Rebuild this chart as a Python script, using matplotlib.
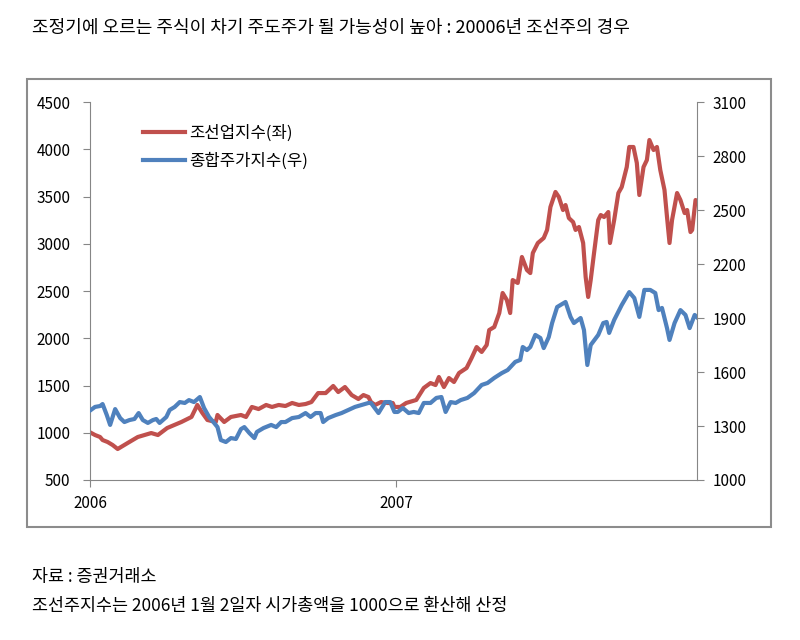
import pandas as pd
import matplotlib.pyplot as plt
from matplotlib.patches import Rectangle

plt.rcParams['font.family'] = ['Noto Sans CJK KR', 'DejaVu Sans']

# 조선업지수 (left axis)
ship_dates = [
    '2006-01-02', '2006-01-07', '2006-01-13', '2006-01-16', '2006-01-22', '2006-01-28', '2006-02-03',
    '2006-02-15', '2006-02-27', '2006-03-15', '2006-03-23', '2006-04-03', '2006-04-20', '2006-05-02',
    '2006-05-09', '2006-05-15', '2006-05-21', '2006-05-31', '2006-06-02', '2006-06-10', '2006-06-18',
    '2006-06-30', '2006-07-06', '2006-07-13', '2006-07-21', '2006-07-30', '2006-08-06', '2006-08-14',
    '2006-08-22', '2006-08-30', '2006-09-07', '2006-09-15', '2006-09-22', '2006-09-30', '2006-10-09',
    '2006-10-18', '2006-10-24', '2006-11-01', '2006-11-09', '2006-11-17', '2006-11-23', '2006-11-29',
    '2006-12-02', '2006-12-07', '2006-12-14', '2006-12-22', '2006-12-28', '2006-12-30', '2007-01-06',
    '2007-01-13', '2007-01-25', '2007-02-03', '2007-02-11', '2007-02-17', '2007-02-21', '2007-02-27',
    '2007-03-05', '2007-03-11', '2007-03-17', '2007-03-26', '2007-04-01', '2007-04-07', '2007-04-13',
    '2007-04-19', '2007-04-22', '2007-04-28', '2007-05-04', '2007-05-08', '2007-05-13', '2007-05-17',
    '2007-05-20', '2007-05-26', '2007-05-31', '2007-06-06', '2007-06-10', '2007-06-13', '2007-06-19',
    '2007-06-26', '2007-06-30', '2007-07-04', '2007-07-10', '2007-07-14', '2007-07-19', '2007-07-22',
    '2007-07-26', '2007-07-31', '2007-08-03', '2007-08-07', '2007-08-12', '2007-08-15', '2007-08-18',
    '2007-08-21', '2007-08-25', '2007-08-30', '2007-09-02', '2007-09-06', '2007-09-11', '2007-09-13',
    '2007-09-18', '2007-09-23', '2007-09-27', '2007-10-03', '2007-10-06', '2007-10-11', '2007-10-15',
    '2007-10-18', '2007-10-23', '2007-10-27', '2007-10-30', '2007-11-04', '2007-11-08', '2007-11-12',
    '2007-11-17', '2007-11-20', '2007-11-23', '2007-11-26', '2007-12-02', '2007-12-06', '2007-12-11',
    '2007-12-14', '2007-12-18', '2007-12-20', '2007-12-24', '2007-12-28',
]
ship_index = [
    1000, 976, 955, 923, 902, 870, 828,
    892, 955, 997, 976, 1050, 1114, 1167,
    1294, 1209, 1135, 1114, 1188, 1114, 1167,
    1188, 1167, 1273, 1251, 1294, 1273, 1294,
    1283, 1315, 1294, 1304, 1325, 1420, 1420,
    1495, 1431, 1484, 1399, 1357, 1399, 1378,
    1325, 1294, 1325, 1315, 1315, 1273, 1273,
    1315, 1347, 1474, 1526, 1505, 1590, 1484,
    1579, 1537, 1632, 1685, 1791, 1907, 1855,
    1929, 2087, 2119, 2267, 2479, 2405, 2267,
    2616, 2585, 2860, 2722, 2690, 2902, 3008,
    3061, 3146, 3389, 3548, 3495, 3357, 3410,
    3272, 3230, 3146, 3177, 3008, 2648, 2437,
    2616, 2902, 3251, 3304, 3283, 3336, 3008,
    3251, 3537, 3600, 3812, 4024, 4024, 3855,
    3516, 3812, 3886, 4098, 3992, 4024, 3780,
    3569, 3283, 3008, 3251, 3537, 3463, 3325,
    3357, 3124, 3146, 3463, 3442,
]

# 종합주가지수 (right axis)
kospi_dates = [
    '2006-01-02', '2006-01-07', '2006-01-13', '2006-01-16', '2006-01-21', '2006-01-25', '2006-01-31',
    '2006-02-06', '2006-02-11', '2006-02-17', '2006-02-23', '2006-02-28', '2006-03-05', '2006-03-11',
    '2006-03-17', '2006-03-21', '2006-03-25', '2006-04-02', '2006-04-06', '2006-04-12', '2006-04-18',
    '2006-04-24', '2006-04-29', '2006-05-05', '2006-05-12', '2006-05-17', '2006-05-23', '2006-05-29',
    '2006-06-02', '2006-06-06', '2006-06-12', '2006-06-18', '2006-06-24', '2006-06-30', '2006-07-04',
    '2006-07-10', '2006-07-16', '2006-07-19', '2006-07-27', '2006-08-05', '2006-08-11', '2006-08-17',
    '2006-08-22', '2006-08-30', '2006-09-07', '2006-09-15', '2006-09-21', '2006-09-27', '2006-10-03',
    '2006-10-06', '2006-10-12', '2006-10-21', '2006-10-28', '2006-11-05', '2006-11-13', '2006-11-21',
    '2006-11-29', '2006-12-02', '2006-12-11', '2006-12-19', '2006-12-25', '2006-12-30', '2007-01-03',
    '2007-01-09', '2007-01-16', '2007-01-22', '2007-01-28', '2007-02-03', '2007-02-11', '2007-02-18',
    '2007-02-24', '2007-03-01', '2007-03-07', '2007-03-13', '2007-03-19', '2007-03-27', '2007-04-04',
    '2007-04-13', '2007-04-20', '2007-04-28', '2007-05-07', '2007-05-14', '2007-05-23', '2007-05-29',
    '2007-06-01', '2007-06-06', '2007-06-10', '2007-06-16', '2007-06-22', '2007-06-26', '2007-07-02',
    '2007-07-06', '2007-07-12', '2007-07-22', '2007-07-28', '2007-08-01', '2007-08-09', '2007-08-13',
    '2007-08-17', '2007-08-21', '2007-08-30', '2007-09-05', '2007-09-09', '2007-09-12', '2007-09-18',
    '2007-09-27', '2007-10-06', '2007-10-12', '2007-10-18', '2007-10-24', '2007-10-31', '2007-11-06',
    '2007-11-10', '2007-11-14', '2007-11-20', '2007-11-23', '2007-11-29', '2007-12-06', '2007-12-12',
    '2007-12-17', '2007-12-23', '2007-12-28',
]
kospi_index = [
    1389, 1406, 1411, 1422, 1361, 1306, 1394,
    1344, 1322, 1333, 1339, 1372, 1333, 1317,
    1333, 1339, 1317, 1350, 1389, 1406, 1433,
    1428, 1444, 1433, 1461, 1400, 1350, 1317,
    1294, 1222, 1211, 1233, 1228, 1283, 1294,
    1261, 1233, 1267, 1289, 1306, 1294, 1322,
    1322, 1344, 1350, 1372, 1350, 1372, 1372,
    1322, 1344, 1361, 1372, 1389, 1406, 1417,
    1428, 1428, 1372, 1433, 1433, 1378, 1378,
    1400, 1372, 1378, 1372, 1428, 1428, 1456,
    1461, 1378, 1433, 1428, 1444, 1456, 1483,
    1528, 1539, 1567, 1594, 1611, 1656, 1667,
    1739, 1722, 1739, 1806, 1789, 1733, 1794,
    1872, 1961, 1989, 1906, 1872, 1900, 1833,
    1639, 1750, 1806, 1872, 1878, 1817, 1889,
    1972, 2044, 2011, 1906, 2056, 2056, 2039,
    1944, 1956, 1844, 1778, 1872, 1944, 1917,
    1844, 1917, 1894,
]

left_ticks = [500, 1000, 1500, 2000, 2500, 3000, 3500, 4000, 4500]
right_ticks = [1000, 1300, 1600, 1900, 2200, 2500, 2800, 3100]
year_ticks = ['2006-01-01', '2007-01-01']
year_labels = ['2006', '2007']

title = '조정기에 오르는 주식이 차기 주도주가 될 가능성이 높아 : 20006년 조선주의 경우'
source = '자료 : 증권거래소'
note = '조선주지수는 2006년 1월 2일자 시가총액을 1000으로 환산해 산정'

red = '#C0504D'
blue = '#4F81BD'
axis_gray = '#868686'

fig = plt.figure(figsize=(8, 6.4), dpi=100)

# chart frame
fig.patches.append(Rectangle((0.034, 0.177), 0.93, 0.70, transform=fig.transFigure,
                             fill=False, edgecolor='#8c8c8c', linewidth=1.5))

ax = fig.add_axes([0.1125, 0.25, 0.759, 0.5906])
ax2 = ax.twinx()

l1, = ax.plot(pd.to_datetime(ship_dates), ship_index, color=red, linewidth=3,
              solid_joinstyle='round', label='조선업지수(좌)')
l2, = ax2.plot(pd.to_datetime(kospi_dates), kospi_index, color=blue, linewidth=3,
               solid_joinstyle='round', label='종합주가지수(우)')

ax.set_xlim(pd.Timestamp('2006-01-01'), pd.Timestamp('2007-12-26'))
ax.set_ylim(500, 4500)
ax2.set_ylim(1000, 3100)
ax.set_yticks(left_ticks)
ax2.set_yticks(right_ticks)
ax.set_xticks(pd.to_datetime(year_ticks))
ax.set_xticklabels(year_labels)

for a in (ax, ax2):
    a.spines['top'].set_visible(False)
    for s in a.spines.values():
        s.set_color(axis_gray)
ax.spines['right'].set_visible(False)
ax2.spines['left'].set_visible(False)
ax2.spines['bottom'].set_visible(False)

ax.tick_params(axis='y', direction='out', length=5, color=axis_gray, labelsize=11, pad=9)
ax.tick_params(axis='x', direction='out', length=5, color=axis_gray, labelsize=11, pad=6)
ax2.tick_params(axis='y', direction='out', length=5, color=axis_gray, labelsize=11, pad=6)

ax.legend(handles=[l1, l2], loc='upper left', bbox_to_anchor=(0.063, 0.98), frameon=False,
          fontsize=12, handlelength=2.5, handletextpad=0.25, labelspacing=0.65)

fig.text(0.04, 0.957, title, fontsize=13, va='center', ha='left')
fig.text(0.04, 0.098, source, fontsize=12.5, va='center', ha='left')
fig.text(0.04, 0.053, note, fontsize=12.5, va='center', ha='left')

fig.savefig('out.png', dpi=100)
